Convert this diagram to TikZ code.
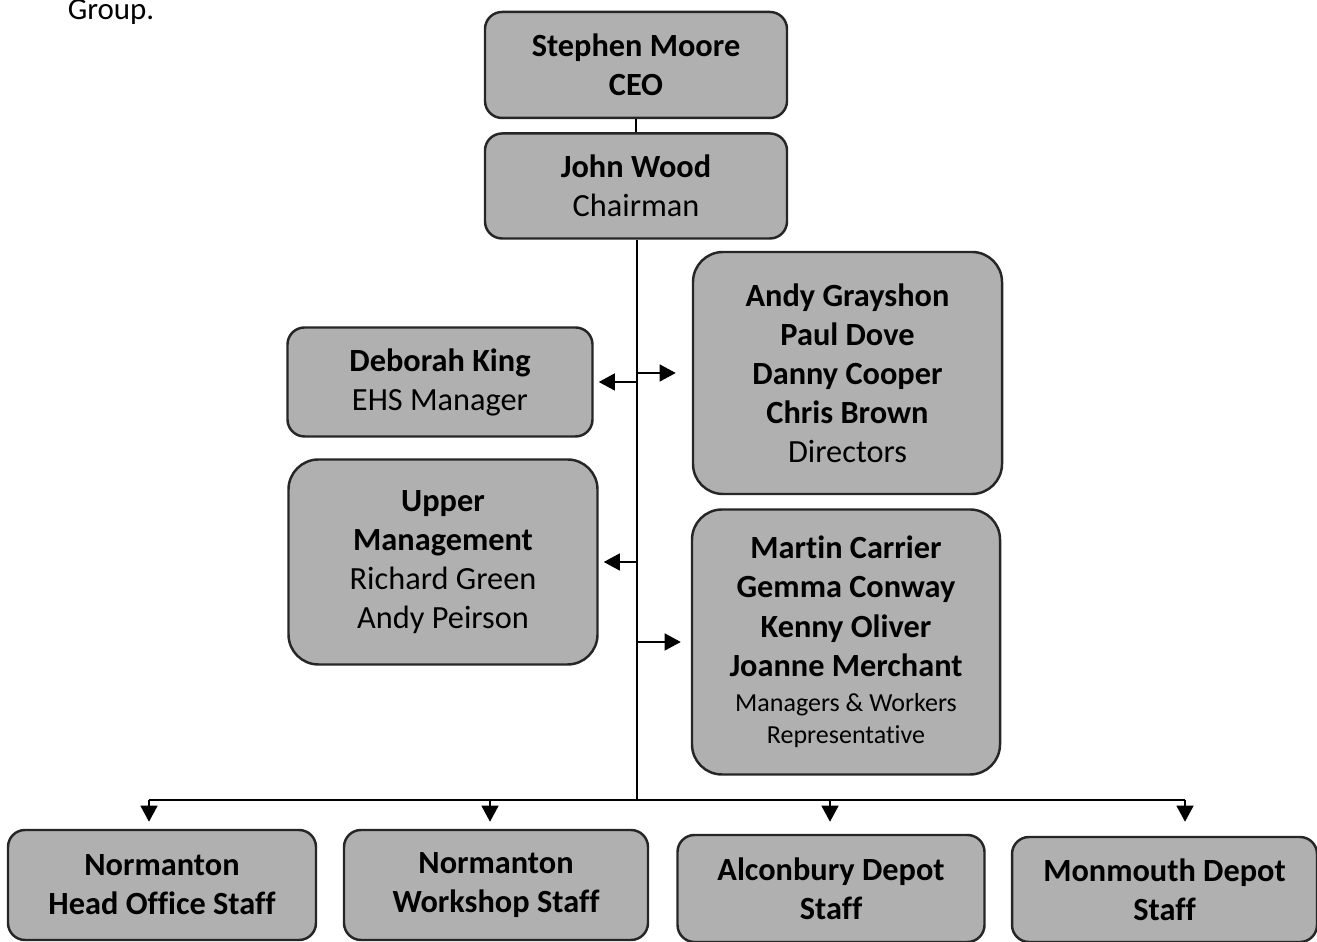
\documentclass[tikz,border=0pt]{standalone}
\usepackage{fontspec}
\setmainfont{Carlito}[Ligatures={NoCommon}]
\usetikzlibrary{arrows.meta}
\definecolor{boxgray}{RGB}{176,176,176}
\newcommand{\smalltxt}{\fontsize{7.4}{9.4}\selectfont}
\tikzset{
  orgbox/.style={draw=black!85, line width=0.7pt, fill=boxgray, rounded corners=0.17cm,
    align=center, inner sep=0pt, font=\fontsize{9.2}{11.1}\selectfont},
  bigbox/.style={orgbox, rounded corners=0.3cm},
  link/.style={line width=0.6pt},
  arr/.style={link, -{Triangle[length=4.6pt,width=4.8pt]}}
}
\begin{document}
\begin{tikzpicture}[>=stealth]
    \useasboundingbox (0,0) rectangle (13.17,9.42);

    % Cut-off caption line at the top
    \node[anchor=base, font=\fontsize{8.8}{10}\selectfont] (cap) at (1.11,9.22) {Group.};

    % Top of the chart
    \node[orgbox, minimum width=3.02cm, minimum height=1.06cm] (ceo) at (6.36,8.77) {\textbf{Stephen Moore}\\\textbf{CEO}};
    \node[orgbox, minimum width=3.02cm, minimum height=1.05cm] (chair) at (6.36,7.56) {\textbf{John Wood}\\Chairman};

    % Left side boxes
    \node[orgbox, minimum width=3.05cm, minimum height=1.09cm] (ehs) at (4.40,5.60) {\textbf{Deborah King}\\EHS Manager};
    \node[bigbox, minimum width=3.09cm, minimum height=2.05cm] (upper) at (4.43,3.80) {\textbf{Upper}\\\textbf{Management}\\Richard Green\\Andy Peirson};

    % Right side boxes
    \node[bigbox, minimum width=3.09cm, minimum height=2.42cm] (dirs) at (8.475,5.69) {\textbf{Andy Grayshon}\\\textbf{Paul Dove}\\\textbf{Danny Cooper}\\\textbf{Chris Brown}\\Directors};
    \node[bigbox, minimum width=3.08cm, minimum height=2.65cm] (mgrs) at (8.46,3.00) {\textbf{Martin Carrier}\\\textbf{Gemma Conway}\\\textbf{Kenny Oliver}\\\textbf{Joanne Merchant}\\[-1pt]\smalltxt Managers \& Workers\\[-2pt]\smalltxt Representative};

    % Staff boxes along the bottom
    \node[orgbox, minimum width=3.08cm, minimum height=1.10cm] (s1) at (1.62,0.57) {\textbf{Normanton}\\\textbf{Head Office Staff}};
    \node[orgbox, minimum width=3.04cm, minimum height=1.10cm] (s2) at (4.96,0.57) {\textbf{Normanton}\\\textbf{Workshop Staff}};
    \node[orgbox, minimum width=3.07cm, minimum height=1.07cm] (s3) at (8.31,0.535) {\textbf{Alconbury Depot}\\\textbf{Staff}};
    \node[orgbox, minimum width=3.05cm, minimum height=1.05cm] (s4) at (11.645,0.525) {\textbf{Monmouth Depot}\\\textbf{Staff}};

    % Trunk
    \coordinate (hub) at (6.37,1.42);
    \draw[link] (ceo) -- (chair);
    \draw[link] (chair.south -| hub) -- (hub);

    % Side arrows off the trunk
    \draw[arr, shorten >=0.05cm] (hub |- ehs) -- (ehs);
    \draw[arr, shorten >=0.16cm] (hub |- dirs) -- (dirs);
    \draw[arr, shorten >=0.05cm] (hub |- upper) -- (upper);
    \draw[arr, shorten >=0.10cm] (hub |- mgrs) -- (mgrs);

    % Drops to the staff boxes
    \coordinate (d1) at (1.49,1.42);
    \coordinate (d2) at (4.90,1.42);
    \coordinate (d3) at (8.30,1.42);
    \coordinate (d4) at (11.85,1.42);
    \draw[link] (d1) -- (d4);
    \draw[arr, shorten >=0.07cm] (d1) -- (d1 |- s1.north);
    \draw[arr, shorten >=0.07cm] (d2) -- (d2 |- s2.north);
    \draw[arr, shorten >=0.12cm] (d3) -- (d3 |- s3.north);
    \draw[arr, shorten >=0.14cm] (d4) -- (d4 |- s4.north);

\end{tikzpicture}
\end{document}
